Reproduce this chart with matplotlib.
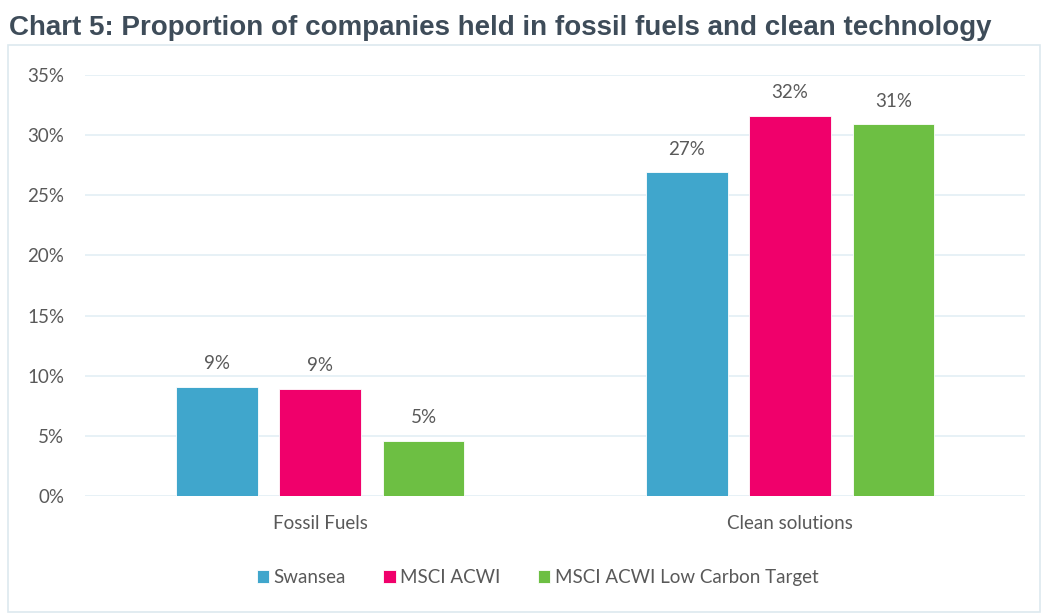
import matplotlib
matplotlib.use("Agg")
import matplotlib.pyplot as plt
import numpy as np
from matplotlib.patches import Rectangle

categories = ["Fossil Fuels", "Clean solutions"]
series_names = ["Swansea", "MSCI ACWI", "MSCI ACWI Low Carbon Target"]
swansea = [9.1, 26.9]
msci_acwi = [8.9, 31.6]
msci_low_carbon = [4.6, 30.9]
value_labels = [["9%", "27%"], ["9%", "32%"], ["5%", "31%"]]
yticks = [0, 5, 10, 15, 20, 25, 30, 35]
colors = ["#40a6cc", "#f0006b", "#6dbf43"]

fig = plt.figure(figsize=(10.46, 6.14), dpi=100)
tick_font = "Lato"
fs = 13.5
text_color = "#595959"

fig.text(0.009, 0.955, "Chart 5: Proportion of companies held in fossil fuels and clean technology",
         fontsize=20, fontweight="bold", family="Liberation Sans", color="#3e4c59",
         va="center", ha="left")

# chart frame
fig.patches.append(Rectangle((0.008, 0.004), 0.986, 0.922, transform=fig.transFigure,
                             fill=False, edgecolor="#dde9ef", linewidth=1.2))

ax = fig.add_axes([0.0813, 0.1922, 0.8987, 0.6857])
x = np.arange(len(categories))
w = 0.174
step = 0.22
data = [swansea, msci_acwi, msci_low_carbon]
for i, (vals, name, c) in enumerate(zip(data, series_names, colors)):
    pos = x + (i - 1) * step
    bars = ax.bar(pos, vals, width=w, color=c, label=name, zorder=3,
                  edgecolor="white", linewidth=0.6)
    for b, lab in zip(bars, value_labels[i]):
        ax.text(b.get_x() + b.get_width() / 2, b.get_height() + 1.2, lab,
                ha="center", va="bottom", fontsize=fs, family=tick_font, color=text_color)

ax.set_xlim(-0.5, 1.5)
ax.set_ylim(0, 35)
ax.set_yticks(yticks)
ax.set_yticklabels([f"{t}%" for t in yticks])
ax.set_xticks(x)
ax.set_xticklabels(categories)
for lab in ax.get_xticklabels() + ax.get_yticklabels():
    lab.set_family(tick_font)
    lab.set_fontsize(fs)
    lab.set_color(text_color)
ax.tick_params(axis="both", length=0)
ax.tick_params(axis="y", pad=15)
ax.tick_params(axis="x", pad=14)
for s in ax.spines.values():
    s.set_visible(False)
ax.grid(axis="y", color="#e3eff5", linewidth=1.2, zorder=0)
ax.set_axisbelow(True)

leg = fig.legend(loc="center", bbox_to_anchor=(0.514, 0.059), ncol=3, frameon=False,
                 prop={"family": tick_font, "size": fs}, handlelength=0.65, handleheight=0.65,
                 handletextpad=0.25, columnspacing=2.0)
for t in leg.get_texts():
    t.set_color(text_color)

fig.savefig("out.png", dpi=100, facecolor="white")
